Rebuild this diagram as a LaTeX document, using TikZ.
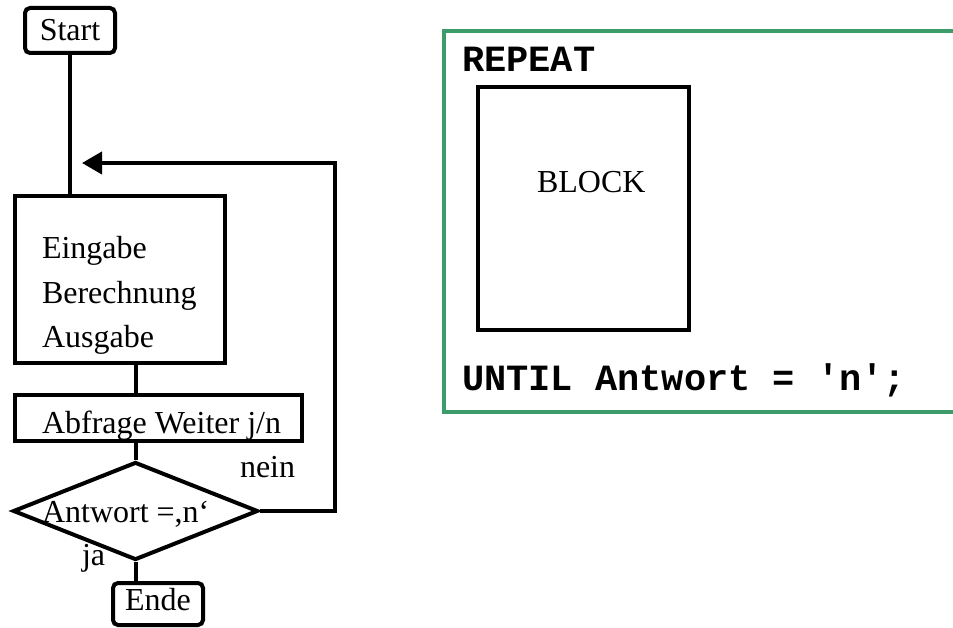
\documentclass[tikz,border=0pt]{standalone}
\usepackage{fontspec}
\setmainfont{Liberation Serif}
\setmonofont{Liberation Mono}
\usetikzlibrary{shapes.geometric,arrows.meta}
\definecolor{framegreen}{HTML}{3C9C6A}
\begin{document}
\begin{tikzpicture}[x=1pt,y=-1pt,
  line width=4pt,
  txt/.style={inner sep=0pt,anchor=base west,font=\fontsize{32}{44}\selectfont},
  code/.style={inner sep=0pt,anchor=base west,font=\fontsize{37}{40}\selectfont\ttfamily\bfseries},
  terminal/.style={draw,rounded corners=5pt,inner sep=0pt,font=\fontsize{32}{44}\selectfont},
  procbox/.style={draw,inner sep=0pt},
  decision/.style={draw,diamond,inner sep=0pt},
  flow/.style={line width=4pt}]
\useasboundingbox (0,0) rectangle (953,628);

% --- flowchart ---
\node[terminal,minimum width=90,minimum height=45] (start) at (70,30.5) {Start};
\node[procbox,minimum width=210,minimum height=167] (proc) at (120,279.5) {};
\node[txt] (t1) at (40,259) {Eingabe};
\node[txt] (t2) at (40,304) {Berechnung};
\node[txt] (t3) at (40,347) {Ausgabe};
\node[procbox,minimum width=287,minimum height=46] (ask) at (158.5,418) {};
\node[txt] (asktxt) at (40,433) {Abfrage Weiter j/n};
\node[decision,minimum width=245,minimum height=98] (dec) at (135.5,511) {};
\node[txt] (dectxt) at (40,522) {Antwort =,n‘};
\node[txt] (nein) at (238,477) {nein};
\node[txt] (ja) at (80,565) {ja};
\node[terminal,minimum width=90,minimum height=42] (ende) at (158,604) {};
\node[txt] (endetxt) at (123,610) {Ende};

\coordinate (loopR) at (335,163);
\coordinate (loopTip) at (82,163);

\draw[flow] (start.south) -- (start.south |- proc.north);
\draw[flow] (proc.south -| dec.north) -- (ask.north -| dec.north);
\draw[flow] (ask.south -| dec.north) -- (dec.north);
\draw[flow] (dec.south) -- (dec.south |- ende.north);
\draw[flow,-{Triangle[length=20pt,width=22pt]}] (dec.east) -| (loopR) -- (loopTip);

% --- REPEAT / UNTIL structogram ---
\draw[framegreen,line width=4pt] (960,31) -- (444,31) -- (444,412) -- (960,412);
\node[code] (repeat) at (460,72) {REPEAT};
\node[procbox,minimum width=211,minimum height=243] (block) at (583.5,208.5) {};
\node[txt] (blocktxt) at (535,193) {BLOCK};
\node[code] (until) at (460,390) {UNTIL Antwort = 'n';};
\end{tikzpicture}
\end{document}
